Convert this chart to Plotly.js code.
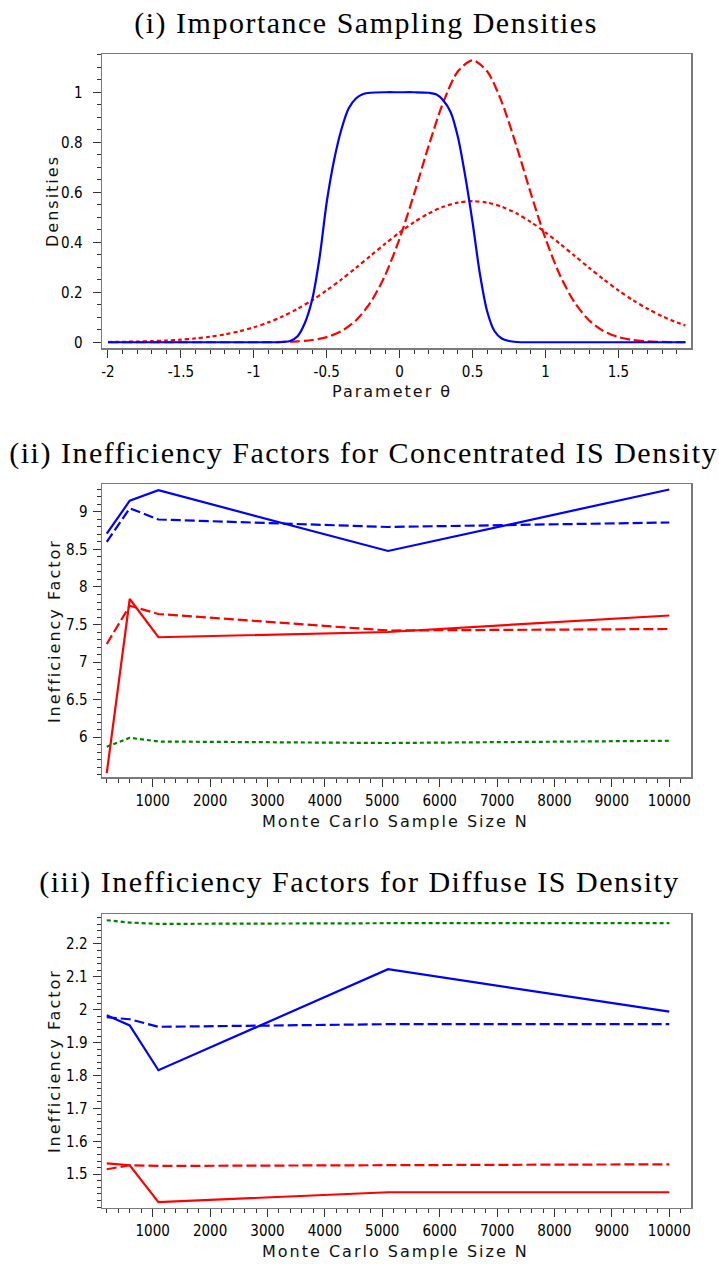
<!DOCTYPE html>
<html>
<head>
<meta charset="utf-8">
<script src="https://cdn.plot.ly/plotly-3.0.1.min.js"></script>
<style>
  html, body { margin: 0; padding: 0; background: #ffffff; }
  #chart { width: 719px; height: 1264px; }
  /* panel headings get slight tracking, axis captions a bit more */
  .annotation[data-index="0"] .annotation-text,
  .annotation[data-index="1"] .annotation-text,
  .annotation[data-index="2"] .annotation-text { letter-spacing: 1.5px; }
  .annotation[data-index="3"] .annotation-text,
  .annotation[data-index="4"] .annotation-text,
  .annotation[data-index="5"] .annotation-text,
  .annotation[data-index="6"] .annotation-text,
  .annotation[data-index="7"] .annotation-text,
  .annotation[data-index="8"] .annotation-text { letter-spacing: 2px; }
</style>
</head>
<body>
<div id="chart"></div>
<script>
// ---- (i) importance sampling densities over the parameter theta ----
const thetaGrid = [-2.0, -1.9, -1.8, -1.7, -1.6, -1.5, -1.4, -1.3, -1.2, -1.1,
                   -1.0, -0.9, -0.8, -0.7, -0.6, -0.5, -0.4, -0.3, -0.2, -0.1,
                    0.0,  0.1,  0.2,  0.3,  0.4,  0.5,  0.6,  0.7,  0.8,  0.9,
                    1.0,  1.1,  1.2,  1.3,  1.4,  1.5,  1.6,  1.7,  1.8,  1.9, 1.96];
const concentratedDensity = [0, 0, 0, 0, 0, 0, 0, 0, 0, 0,
                   0.0001, 0.0004, 0.0013, 0.0036, 0.0089, 0.0207, 0.0442, 0.0872, 0.1589, 0.2673,
                   0.4150, 0.5948, 0.7870, 0.9612, 1.0838, 1.1280, 1.0838, 0.9612, 0.7870, 0.5948,
                   0.4150, 0.2673, 0.1589, 0.0872, 0.0442, 0.0207, 0.0089, 0.0036, 0.0013, 0.0004, 0.0002];
const diffuseDensity = [0.0011, 0.0018, 0.0028, 0.0045, 0.0069, 0.0103, 0.0153, 0.0221, 0.0314, 0.0436,
                   0.0595, 0.0795, 0.1041, 0.1337, 0.1682, 0.2076, 0.2510, 0.2975, 0.3456, 0.3936,
                   0.4394, 0.4808, 0.5156, 0.5421, 0.5586, 0.5642, 0.5586, 0.5421, 0.5156, 0.4808,
                   0.4394, 0.3936, 0.3456, 0.2975, 0.2510, 0.2076, 0.1682, 0.1337, 0.1041, 0.0795, 0.0669];
const targetTheta = [-2, -1.5, -1, -0.9, -0.8, -0.75, -0.7, -0.65, -0.6, -0.55, -0.5, -0.45, -0.4,
                     -0.35, -0.3, -0.25, -0.2, -0.1, 0, 0.1, 0.2, 0.25, 0.3, 0.35, 0.4, 0.45, 0.5,
                     0.55, 0.6, 0.65, 0.7, 0.75, 0.8, 0.9, 1, 1.5, 1.96];
const targetDensity = [0, 0, 0, 0, 0.001, 0.005, 0.024, 0.077, 0.17, 0.335, 0.56, 0.727, 0.85,
                       0.935, 0.975, 0.993, 0.998, 1, 1, 1, 0.998, 0.992, 0.967, 0.92, 0.82, 0.664, 0.48,
                       0.275, 0.124, 0.045, 0.015, 0.005, 0.001, 0, 0, 0, 0];

// tick labels of panel (i)
const thetaTicks = [-2, -1.5, -1, -0.5, 0, 0.5, 1, 1.5];
const thetaTickText = ['-2', '-1.5', '-1', '-0.5', '0', '0.5', '1', '1.5'];

// ---- Monte Carlo sample sizes used in panels (ii) and (iii) ----
const sampleSize = [200, 600, 1100, 5100, 10000];

// (ii) concentrated IS density
const concBlueSolid  = [8.71, 9.15, 9.29, 8.48, 9.30];
const concBlueDash   = [8.60, 9.05, 8.90, 8.80, 8.86];
const concRedSolid   = [5.52, 7.84, 7.33, 7.40, 7.62];
const concRedDash    = [7.24, 7.75, 7.64, 7.42, 7.44];
const concGreenDot   = [5.87, 5.99, 5.94, 5.92, 5.95];
const concTicks      = [6, 6.5, 7, 7.5, 8, 8.5, 9];

// (iii) diffuse IS density
const diffGreenDot   = [2.272, 2.265, 2.261, 2.263, 2.263];
const diffBlueSolid  = [1.983, 1.952, 1.816, 2.123, 1.994];
const diffBlueDash   = [1.977, 1.971, 1.948, 1.956, 1.956];
const diffRedSolid   = [1.533, 1.527, 1.415, 1.445, 1.445];
const diffRedDash    = [1.515, 1.527, 1.525, 1.527, 1.530];
const diffTicks      = [1.5, 1.6, 1.7, 1.8, 1.9, 2, 2.1, 2.2];

const BLUE = '#0000ff', RED = '#ff0000', GREEN = '#008000';
const DASHED = '10px,4px', DOTTED = '4px,3px';

function line(x, y, color, dash, xa, ya, shape) {
  return {
    type: 'scatter', mode: 'lines', x: x, y: y,
    xaxis: xa, yaxis: ya, showlegend: false, hoverinfo: 'skip',
    line: { color: color, width: 2.2, dash: dash, shape: shape || 'linear', smoothing: 0.8 }
  };
}

const data = [
  line(thetaGrid, diffuseDensity, RED, DOTTED, 'x', 'y', 'spline'),
  line(thetaGrid, concentratedDensity, RED, DASHED, 'x', 'y', 'spline'),
  line(targetTheta, targetDensity, BLUE, 'solid', 'x', 'y', 'spline'),

  line(sampleSize, concGreenDot, GREEN, DOTTED, 'x2', 'y2'),
  line(sampleSize, concRedDash, RED, DASHED, 'x2', 'y2'),
  line(sampleSize, concRedSolid, RED, 'solid', 'x2', 'y2'),
  line(sampleSize, concBlueDash, BLUE, DASHED, 'x2', 'y2'),
  line(sampleSize, concBlueSolid, BLUE, 'solid', 'x2', 'y2'),

  line(sampleSize, diffGreenDot, GREEN, DOTTED, 'x3', 'y3'),
  line(sampleSize, diffRedDash, RED, DASHED, 'x3', 'y3'),
  line(sampleSize, diffRedSolid, RED, 'solid', 'x3', 'y3'),
  line(sampleSize, diffBlueDash, BLUE, DASHED, 'x3', 'y3'),
  line(sampleSize, diffBlueSolid, BLUE, 'solid', 'x3', 'y3')
];

const W = 719, H = 1264;
const px = v => v / W;          // horizontal pixel -> paper fraction
const py = v => 1 - v / H;      // vertical pixel (from top) -> paper fraction

const tickFont = { family: 'DejaVu Sans Condensed, DejaVu Sans', size: 15, color: '#000' };

function minorTicks(step) {
  return { dtick: step, tick0: 0, ticks: 'outside', ticklen: 4, tickwidth: 1, tickcolor: '#333', showgrid: false };
}

function axis(extra) {
  return Object.assign({
    showline: true, mirror: true, linecolor: '#7a7a7a', linewidth: 1.5,
    ticks: 'outside', ticklen: 8, tickwidth: 1, tickcolor: '#333',
    showgrid: false, zeroline: false, tickfont: tickFont
  }, extra);
}

const xDomain = [px(102), px(691)];

const layout = {
  width: W, height: H, autosize: false,
  margin: { l: 0, r: 0, t: 0, b: 0, pad: 0 },
  paper_bgcolor: '#ffffff', plot_bgcolor: '#ffffff',
  showlegend: false,

  xaxis: axis({ anchor: 'y', domain: xDomain, range: [-2.041, 1.998],
                tickmode: 'array', tickvals: thetaTicks, ticktext: thetaTickText,
                ticklabelstandoff: 1, minor: minorTicks(0.1) }),
  yaxis: axis({ anchor: 'x', domain: [py(348), py(54)], range: [-0.023, 1.153],
                tick0: 0, dtick: 0.2, ticklabelstandoff: 7, minor: minorTicks(0.05) }),

  xaxis2: axis({ anchor: 'y2', domain: xDomain, range: [117, 10378],
                 tick0: 0, dtick: 1000, tickformat: 'd', ticklabelstandoff: 1,
                 minor: minorTicks(200) }),
  yaxis2: axis({ anchor: 'x2', domain: [py(777.3), py(484)], range: [5.463, 9.373],
                 tickmode: 'array', tickvals: concTicks, ticklabelstandoff: 2,
                 minor: minorTicks(0.1) }),

  xaxis3: axis({ anchor: 'y3', domain: xDomain, range: [117, 10378],
                 tick0: 0, dtick: 1000, tickformat: 'd', ticklabelstandoff: 1,
                 minor: minorTicks(200) }),
  yaxis3: axis({ anchor: 'x3', domain: [py(1207.7), py(914)], range: [1.398, 2.291],
                 tickmode: 'array', tickvals: diffTicks, ticklabelstandoff: 2,
                 minor: minorTicks(0.02) }),

  annotations: []
};

const headFont = { family: 'Liberation Serif, Times New Roman, serif', size: 30, color: '#000' };
const capFont = { family: 'DejaVu Sans', size: 16, color: '#111' };

function note(text, x, y, font, angle) {
  return { text: text, x: px(x), y: py(y), xref: 'paper', yref: 'paper',
           xanchor: 'center', yanchor: 'middle', showarrow: false,
           font: font, textangle: angle || 0 };
}

layout.annotations = [
  note('(i) Importance Sampling Densities', 366, 23, headFont),
  note('(ii) Inefficiency Factors for Concentrated IS Density', 363, 453, headFont),
  note('(iii) Inefficiency Factors for Diffuse IS Density', 359, 882, headFont),
  note('Parameter θ', 392, 391.5, capFont),
  note('Monte Carlo Sample Size N', 395, 821, capFont),
  note('Monte Carlo Sample Size N', 395, 1251, capFont),
  note('Densities', 53, 201, capFont, -90),
  note('Inefficiency Factor', 54, 631, capFont, -90),
  note('Inefficiency Factor', 54, 1061, capFont, -90)
];

Plotly.newPlot('chart', data, layout, { staticPlot: true, displayModeBar: false });
</script>
</body>
</html>
